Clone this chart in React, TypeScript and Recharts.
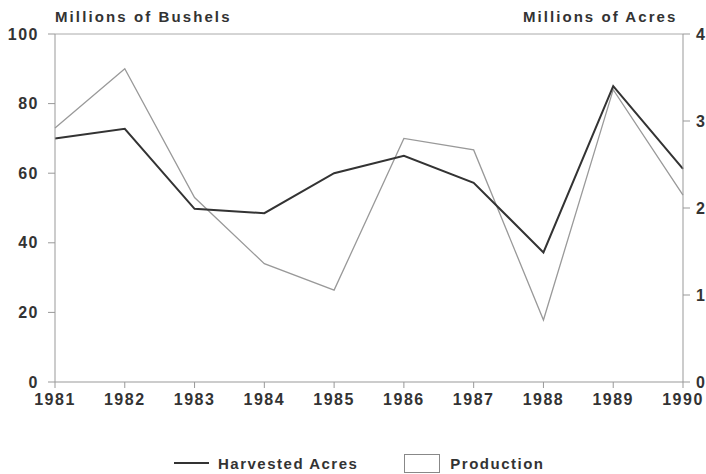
import React from "react";
import {
  LineChart,
  Line,
  XAxis,
  YAxis,
  Legend,
  ReferenceLine,
} from "recharts";

const years = ["1981", "1982", "1983", "1984", "1985", "1986", "1987", "1988", "1989", "1990"];
// millions of acres (right axis)
const harvestedAcres = [2.8, 2.91, 1.99, 1.94, 2.4, 2.6, 2.29, 1.49, 3.4, 2.45];
// millions of bushels (left axis)
const production = [73, 90, 53, 34, 26.4, 70, 66.7, 17.8, 84, 53.7];
const bushelTicks = [0, 20, 40, 60, 80, 100];
const acreTicks = [0, 1, 2, 3, 4];

const data = years.map((year, i) => ({
  year,
  acres: harvestedAcres[i],
  production: production[i],
}));

const font = "'Liberation Sans', Arial, sans-serif";
const tickStyle = {
  fontFamily: font,
  fontSize: 16,
  fontWeight: 700,
  fill: "#333",
  letterSpacing: 1.5,
};

const LegendContent = () => (
  <div
    style={{
      height: 62,
      display: "flex",
      alignItems: "flex-end",
      paddingLeft: 174,
      boxSizing: "border-box",
      fontFamily: font,
      fontSize: 15,
      fontWeight: 700,
      letterSpacing: 1.5,
      color: "#333",
    }}
  >
    <div style={{ display: "flex", alignItems: "center", height: 20, paddingBottom: 1 }}>
      <svg width={36} height={10}>
        <line x1={0} y1={5} x2={35} y2={5} stroke="#333" strokeWidth={2} />
      </svg>
      <span style={{ marginLeft: 8 }}>Harvested Acres</span>
      <span
        style={{
          display: "inline-block",
          width: 34,
          height: 17,
          border: "1px solid #888",
          marginLeft: 46,
        }}
      />
      <span style={{ marginLeft: 10 }}>Production</span>
    </div>
  </div>
);

export default function App() {
  return (
    <div style={{ position: "absolute", left: 0, top: 0, width: 706, height: 474, background: "#fff", overflow: "hidden" }}>
      <div style={{ position: "absolute", left: 55, top: 8, fontFamily: font, fontSize: 15, fontWeight: 700, letterSpacing: 2.1, color: "#333" }}>
        Millions of Bushels
      </div>
      <div style={{ position: "absolute", left: 523, top: 8, fontFamily: font, fontSize: 15, fontWeight: 700, letterSpacing: 2.05, color: "#333" }}>
        Millions of Acres
      </div>
      <LineChart
        width={706}
        height={474}
        data={data}
        margin={{ top: 34, right: 0, left: 0, bottom: 0 }}
      >
        <XAxis
          dataKey="year"
          height={30}
          tick={tickStyle}
          tickSize={6}
          tickMargin={6}
          stroke="#999"
        />
        <YAxis
          yAxisId="left"
          domain={[0, 100]}
          ticks={bushelTicks}
          width={55}
          tick={tickStyle}
          tickSize={7}
          tickMargin={9}
          stroke="#999"
        />
        <YAxis
          yAxisId="right"
          orientation="right"
          domain={[0, 4]}
          ticks={acreTicks}
          width={23}
          tick={{ ...tickStyle, textAnchor: "start", letterSpacing: 0 }}
          tickSize={7}
          tickMargin={6}
          stroke="#999"
        />
        <ReferenceLine yAxisId="left" y={100} stroke="#aaa" />
        <Legend verticalAlign="bottom" height={62} content={<LegendContent />} />
        <Line
          yAxisId="left"
          type="linear"
          dataKey="production"
          stroke="#999"
          strokeWidth={1.3}
          dot={false}
          isAnimationActive={false}
        />
        <Line
          yAxisId="right"
          type="linear"
          dataKey="acres"
          stroke="#333"
          strokeWidth={2}
          dot={false}
          isAnimationActive={false}
        />
      </LineChart>
    </div>
  );
}
